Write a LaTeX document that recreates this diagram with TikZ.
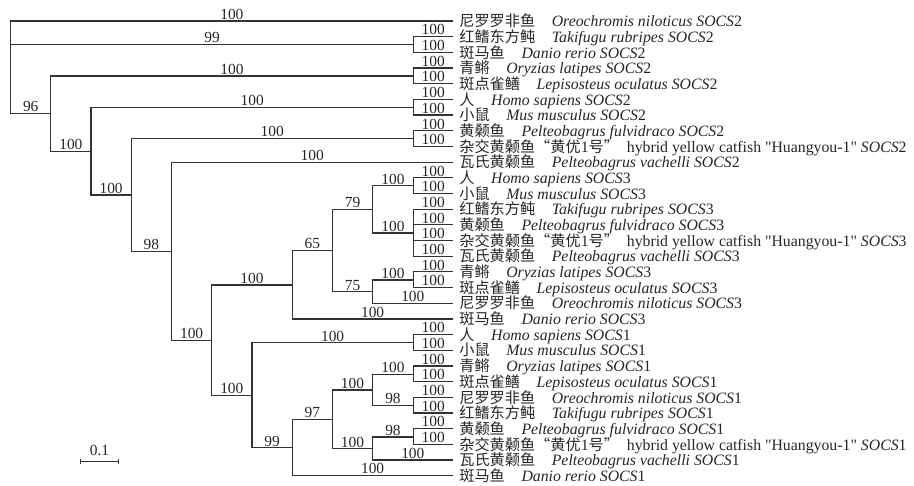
\documentclass[tikz,border=0pt]{standalone}
\usepackage{fontspec}
\setmainfont{Liberation Serif}
\newfontfamily\cjk{Noto Sans CJK SC}[Scale=0.96]
\newfontfamily\straight{Liberation Serif}
\usetikzlibrary{arrows.meta}

\newcommand{\spname}[3]{{\cjk #1}\hspace{1.05em}\textit{#2 SOCS}#3}
\newcommand{\hybname}[1]{{\cjk 杂交黄颡鱼“黄优}1{\cjk 号”}\hspace{0.5em}hybrid yellow catfish {\straight "Huangyou-1"} \textit{SOCS}#1}

\begin{document}
\begin{tikzpicture}[x=0.5pt, y=-0.5pt,
    branch/.style={line width=0.6pt, draw=black!80},
    boot/.style={above, inner sep=0.5pt, font=\fontsize{7.7}{8}\selectfont, text=black!85},
    taxon/.style={anchor=base west, yshift=-2.85pt, inner xsep=3pt, inner ysep=0pt, font=\fontsize{7.9}{8}\selectfont, text=black!85}]
    \useasboundingbox (0,0) rectangle (914,486);

    % Leaf tips
    \foreach \i in {1,...,30}
        \coordinate (t\i) at (453, {21+15.68*(\i-1)});

    % Internal nodes
    \coordinate (root) at (10.7, 67);
    \coordinate (c23) at (413.3, 44.55);
    \coordinate (A) at (50.7, 113.6);
    \coordinate (c45) at (413.3, 75.95);
    \coordinate (B) at (91, 151.2);
    \coordinate (c67) at (413.3, 107.35);
    \coordinate (C) at (131.2, 195);
    \coordinate (c89) at (413.3, 138.75);
    \coordinate (D) at (171.5, 251.2);
    \coordinate (E) at (211.7, 340.15);
    % SOCS3 clade
    \coordinate (F) at (292.2, 284.95);
    \coordinate (H) at (332.4, 250.6);
    \coordinate (I) at (372.6, 209.4);
    \coordinate (J) at (372.6, 291.8);
    \coordinate (K) at (413.3, 185.85);
    \coordinate (L) at (413.3, 232.95);
    \coordinate (M) at (413.3, 280.05);
    % SOCS1 clade
    \coordinate (G) at (251.9, 395.35);
    \coordinate (N) at (413.3, 342.85);
    \coordinate (O) at (292.2, 447.85);
    \coordinate (P) at (332.4, 419.4);
    \coordinate (Q) at (372.6, 389.95);
    \coordinate (R) at (372.6, 448.8);
    \coordinate (S) at (413.3, 374.25);
    \coordinate (T) at (413.3, 405.65);
    \coordinate (U) at (413.3, 437.05);

    % Inner branches with bootstrap values
    \foreach \a/\b/\v in {root/c23/99, root/A/96, A/c45/100, A/B/100, B/c67/100, B/C/100,
            C/c89/100, C/D/98, D/E/100, E/F/100, E/G/100, F/H/65, H/I/79, H/J/75,
            I/K/100, I/L/100, J/M/100, G/N/100, G/O/99, O/P/97, P/Q/100, P/R/100,
            Q/S/100, Q/T/98, R/U/98}
        \draw[branch] (\a) |- node[boot, pos=0.75] {\v} (\b);

    % Terminal branches
    \foreach \a/\b in {root/t1, c23/t2, c23/t3, c45/t4, c45/t5, c67/t6, c67/t7, c89/t8, c89/t9,
            D/t10, K/t11, K/t12, L/t13, L/t14, L/t15, L/t16, M/t17, M/t18, J/t19, F/t20,
            N/t21, N/t22, S/t23, S/t24, T/t25, T/t26, U/t27, U/t28, R/t29, O/t30}
        \draw[branch] (\a) |- node[boot, pos=0.75] {100} (\b);

    % Taxon labels
    \node[taxon] (s1) at (t1) {\spname{尼罗罗非鱼}{Oreochromis niloticus}{2}};
    \node[taxon] (s2) at (t2) {\spname{红鳍东方鲀}{Takifugu rubripes}{2}};
    \node[taxon] (s3) at (t3) {\spname{斑马鱼}{Danio rerio}{2}};
    \node[taxon] (s4) at (t4) {\spname{青鳉}{Oryzias latipes}{2}};
    \node[taxon] (s5) at (t5) {\spname{斑点雀鳝}{Lepisosteus oculatus}{2}};
    \node[taxon] (s6) at (t6) {\spname{人}{Homo sapiens}{2}};
    \node[taxon] (s7) at (t7) {\spname{小鼠}{Mus musculus}{2}};
    \node[taxon] (s8) at (t8) {\spname{黄颡鱼}{Pelteobagrus fulvidraco}{2}};
    \node[taxon] (s9) at (t9) {\hybname{2}};
    \node[taxon] (s10) at (t10) {\spname{瓦氏黄颡鱼}{Pelteobagrus vachelli}{2}};
    \node[taxon] (s11) at (t11) {\spname{人}{Homo sapiens}{3}};
    \node[taxon] (s12) at (t12) {\spname{小鼠}{Mus musculus}{3}};
    \node[taxon] (s13) at (t13) {\spname{红鳍东方鲀}{Takifugu rubripes}{3}};
    \node[taxon] (s14) at (t14) {\spname{黄颡鱼}{Pelteobagrus fulvidraco}{3}};
    \node[taxon] (s15) at (t15) {\hybname{3}};
    \node[taxon] (s16) at (t16) {\spname{瓦氏黄颡鱼}{Pelteobagrus vachelli}{3}};
    \node[taxon] (s17) at (t17) {\spname{青鳉}{Oryzias latipes}{3}};
    \node[taxon] (s18) at (t18) {\spname{斑点雀鳝}{Lepisosteus oculatus}{3}};
    \node[taxon] (s19) at (t19) {\spname{尼罗罗非鱼}{Oreochromis niloticus}{3}};
    \node[taxon] (s20) at (t20) {\spname{斑马鱼}{Danio rerio}{3}};
    \node[taxon] (s21) at (t21) {\spname{人}{Homo sapiens}{1}};
    \node[taxon] (s22) at (t22) {\spname{小鼠}{Mus musculus}{1}};
    \node[taxon] (s23) at (t23) {\spname{青鳉}{Oryzias latipes}{1}};
    \node[taxon] (s24) at (t24) {\spname{斑点雀鳝}{Lepisosteus oculatus}{1}};
    \node[taxon] (s25) at (t25) {\spname{尼罗罗非鱼}{Oreochromis niloticus}{1}};
    \node[taxon] (s26) at (t26) {\spname{红鳍东方鲀}{Takifugu rubripes}{1}};
    \node[taxon] (s27) at (t27) {\spname{黄颡鱼}{Pelteobagrus fulvidraco}{1}};
    \node[taxon] (s28) at (t28) {\hybname{1}};
    \node[taxon] (s29) at (t29) {\spname{瓦氏黄颡鱼}{Pelteobagrus vachelli}{1}};
    \node[taxon] (s30) at (t30) {\spname{斑马鱼}{Danio rerio}{1}};

    % Scale bar
    \coordinate (sbL) at (80, 461.7);
    \coordinate (sbR) at (119, 461.7);
    \draw[branch, {Bar[width=2.5pt]}-{Bar[width=2.5pt]}] (sbL) -- node[boot, inner sep=2.5pt] {0.1} (sbR);
\end{tikzpicture}
\end{document}
